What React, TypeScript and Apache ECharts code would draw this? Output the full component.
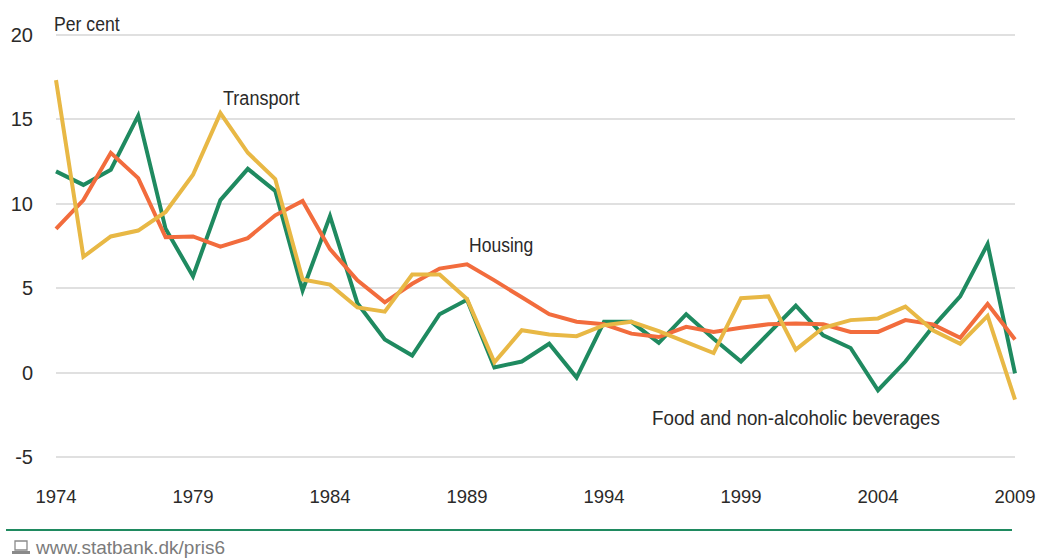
import React, { useEffect, useRef } from "react";
import * as echarts from "echarts";

const years = ["1974","1975","1976","1977","1978","1979","1980","1981","1982","1983","1984","1985","1986","1987","1988","1989","1990","1991","1992","1993","1994","1995","1996","1997","1998","1999","2000","2001","2002","2003","2004","2005","2006","2007","2008","2009"];
const food = [11.9,11.1,12.0,15.2,8.5,5.7,10.2,12.05,10.75,4.85,9.25,4.1,1.95,1.0,3.45,4.3,0.3,0.65,1.7,-0.3,3.0,3.0,1.75,3.45,2.0,0.65,2.3,3.95,2.2,1.45,-1.05,0.65,2.7,4.5,7.6,-0.05];
const housing = [8.5,10.2,13.0,11.5,8.0,8.05,7.45,7.95,9.3,10.15,7.3,5.45,4.15,5.25,6.15,6.4,5.45,4.45,3.45,3.0,2.85,2.3,2.1,2.7,2.4,2.65,2.85,2.9,2.85,2.4,2.4,3.1,2.85,2.05,4.05,1.95];
const transport = [17.3,6.85,8.05,8.4,9.5,11.7,15.35,13.0,11.45,5.5,5.2,3.85,3.6,5.8,5.8,4.35,0.6,2.5,2.25,2.15,2.8,3.0,2.45,1.8,1.15,4.4,4.5,1.35,2.65,3.1,3.2,3.9,2.5,1.7,3.35,-1.6];

const FONT = '"Liberation Sans", sans-serif';
const TEXT = "#2b2a29";

const label = (x: number, y: number, text: string, scaleX: number, fill = TEXT, fontSize = 21) => ({
  type: "text", x, y, scaleX, style: { text, fill, font: `${fontSize}px ${FONT}`, textVerticalAlign: "middle" },
});

const line = (name: string, data: number[], color: string) => ({
  name, type: "line", data, showSymbol: false, symbol: "none",
  lineStyle: { color, width: 4, join: "miter", cap: "butt" }, z: 3,
});

export default function App() {
  const ref = useRef<HTMLDivElement>(null);
  useEffect(() => {
    const chart = echarts.init(ref.current!, null, { renderer: "svg" });
    chart.setOption({
      animation: false,
      backgroundColor: "#ffffff",
      grid: { left: 56, right: 38, top: 34.5, height: 422.5 },
      xAxis: {
        type: "category", data: years, boundaryGap: false,
        axisLine: { show: false }, axisTick: { show: false }, splitLine: { show: false },
        axisLabel: { interval: 4, margin: 30, color: TEXT, fontFamily: FONT, fontSize: 18.5, hideOverlap: false, showMinLabel: true, showMaxLabel: true },
      },
      yAxis: {
        type: "value", min: -5, max: 20, interval: 5,
        axisLine: { show: false }, axisTick: { show: false },
        splitLine: { lineStyle: { color: "#d6d6d6", width: 1.5 } },
        axisLabel: { margin: 23, color: TEXT, fontFamily: FONT, fontSize: 20 },
      },
      series: [line("Food and non-alcoholic beverages", food, "#1f8a60"), line("Housing", housing, "#f26c3d"), line("Transport", transport, "#e8b845")],
      graphic: [
        label(54, 23, "Per cent", 0.84),
        label(223, 97, "Transport", 0.86),
        label(469, 244, "Housing", 0.835),
        label(652, 418, "Food and non-alcoholic beverages", 0.894),
        { type: "rect", shape: { x: 6, y: 529, width: 1006, height: 2 }, style: { fill: "#1f8a60" } },
        { type: "rect", shape: { x: 15, y: 541, width: 12, height: 9 }, style: { fill: "#ffffff", stroke: "#8a8a8a", lineWidth: 1.3 } },
        { type: "rect", shape: { x: 12, y: 551, width: 18, height: 3 }, style: { fill: "#8a8a8a" } },
        label(36, 547, "www.statbank.dk/pris6", 1, "#7b7b7b", 19),
      ],
    });
    return () => chart.dispose();
  }, []);
  return <div ref={ref} style={{ position: "fixed", left: 0, top: 0, width: 1053, height: 558 }} />;
}
